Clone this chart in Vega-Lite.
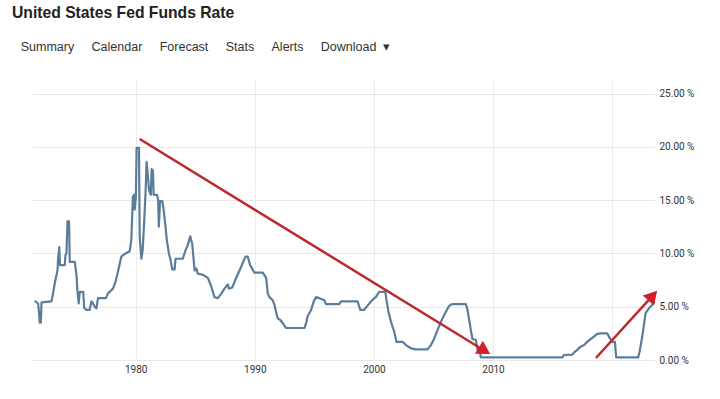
{
  "$schema": "https://vega.github.io/schema/vega-lite/v6.json",
  "width": 623,
  "height": 280,
  "autosize": {"type": "none"},
  "padding": {"left": 32, "top": 80, "right": 65, "bottom": 39},
  "background": "#ffffff",
  "title": {
    "text": "United States Fed Funds Rate",
    "subtitle": "\u200b\u2002\u2009Summary\u00a0\u00a0\u00a0\u00a0\u00a0Calendar\u00a0\u00a0\u00a0\u00a0\u00a0Forecast\u00a0\u00a0\u00a0\u00a0\u00a0Stats\u00a0\u00a0\u00a0\u00a0\u00a0Alerts\u00a0\u00a0\u00a0\u00a0\u00a0Download\u00a0\u00a0\u25be",
    "anchor": "start",
    "frame": "group",
    "dx": -20,
    "offset": 26,
    "font": "Liberation Sans",
    "fontSize": 15.7,
    "fontWeight": "bold",
    "color": "#222222",
    "subtitleFont": "Liberation Sans",
    "subtitleFontSize": 12.5,
    "subtitleColor": "#333333",
    "subtitlePadding": 19
  },
  "config": {
    "view": {"stroke": null},
    "axis": {
      "labelFont": "Roboto",
      "labelFontSize": 10,
      "labelColor": "#333333",
      "domain": false,
      "ticks": false,
      "title": null
    }
  },
  "datasets": {
    "rate": [
      {"year": 1971.53, "rate": 5.56}, {"year": 1971.81, "rate": 5.3}, {"year": 1971.87, "rate": 4.7},
      {"year": 1971.95, "rate": 3.5}, {"year": 1972.04, "rate": 3.5}, {"year": 1972.10, "rate": 5.4},
      {"year": 1972.93, "rate": 5.5}, {"year": 1973.07, "rate": 6.25}, {"year": 1973.21, "rate": 7.2},
      {"year": 1973.44, "rate": 8.4}, {"year": 1973.49, "rate": 9.5}, {"year": 1973.59, "rate": 10.6},
      {"year": 1973.65, "rate": 8.9}, {"year": 1974.05, "rate": 8.9}, {"year": 1974.11, "rate": 9.85},
      {"year": 1974.19, "rate": 10.0}, {"year": 1974.28, "rate": 13.0}, {"year": 1974.41, "rate": 13.0},
      {"year": 1974.47, "rate": 9.2}, {"year": 1974.89, "rate": 9.2}, {"year": 1975.03, "rate": 8.0},
      {"year": 1975.11, "rate": 6.6}, {"year": 1975.22, "rate": 5.3}, {"year": 1975.31, "rate": 6.4},
      {"year": 1975.60, "rate": 6.4}, {"year": 1975.68, "rate": 4.9}, {"year": 1975.87, "rate": 4.7},
      {"year": 1976.14, "rate": 4.7}, {"year": 1976.29, "rate": 5.5}, {"year": 1976.42, "rate": 5.3},
      {"year": 1976.56, "rate": 5.0}, {"year": 1976.71, "rate": 4.85}, {"year": 1976.84, "rate": 5.8},
      {"year": 1977.49, "rate": 5.8}, {"year": 1977.68, "rate": 6.25}, {"year": 1978.10, "rate": 6.7},
      {"year": 1978.30, "rate": 7.3}, {"year": 1978.52, "rate": 8.3}, {"year": 1978.80, "rate": 9.7},
      {"year": 1979.08, "rate": 9.95}, {"year": 1979.50, "rate": 10.2}, {"year": 1979.64, "rate": 11.3},
      {"year": 1979.77, "rate": 15.3}, {"year": 1979.86, "rate": 15.5}, {"year": 1979.92, "rate": 14.1},
      {"year": 1980.02, "rate": 15.3}, {"year": 1980.08, "rate": 19.9}, {"year": 1980.28, "rate": 19.9},
      {"year": 1980.34, "rate": 11.6}, {"year": 1980.48, "rate": 9.5}, {"year": 1980.59, "rate": 10.3},
      {"year": 1980.71, "rate": 12.8}, {"year": 1980.84, "rate": 15.9}, {"year": 1980.92, "rate": 18.6},
      {"year": 1981.01, "rate": 17.5}, {"year": 1981.13, "rate": 15.9}, {"year": 1981.28, "rate": 15.5},
      {"year": 1981.34, "rate": 17.9}, {"year": 1981.45, "rate": 17.8}, {"year": 1981.51, "rate": 15.5},
      {"year": 1981.80, "rate": 15.5}, {"year": 1981.89, "rate": 15.0}, {"year": 1981.95, "rate": 12.5},
      {"year": 1982.05, "rate": 14.9}, {"year": 1982.24, "rate": 14.9}, {"year": 1982.35, "rate": 14.1},
      {"year": 1982.51, "rate": 12.5}, {"year": 1982.62, "rate": 11.25}, {"year": 1982.79, "rate": 10.0},
      {"year": 1982.91, "rate": 9.5}, {"year": 1983.08, "rate": 8.5}, {"year": 1983.27, "rate": 8.5},
      {"year": 1983.35, "rate": 9.5}, {"year": 1983.96, "rate": 9.5}, {"year": 1984.19, "rate": 10.3},
      {"year": 1984.38, "rate": 10.8}, {"year": 1984.58, "rate": 11.6}, {"year": 1984.75, "rate": 10.9},
      {"year": 1984.95, "rate": 8.4}, {"year": 1985.09, "rate": 8.6}, {"year": 1985.22, "rate": 8.1},
      {"year": 1985.64, "rate": 8.0}, {"year": 1986.06, "rate": 7.7}, {"year": 1986.35, "rate": 6.9},
      {"year": 1986.62, "rate": 5.9}, {"year": 1986.90, "rate": 5.8}, {"year": 1987.18, "rate": 6.2},
      {"year": 1987.46, "rate": 6.7}, {"year": 1987.74, "rate": 7.1}, {"year": 1987.82, "rate": 6.7},
      {"year": 1988.11, "rate": 6.8}, {"year": 1988.44, "rate": 7.7}, {"year": 1988.72, "rate": 8.4},
      {"year": 1988.99, "rate": 9.1}, {"year": 1989.22, "rate": 9.7}, {"year": 1989.41, "rate": 9.7},
      {"year": 1989.61, "rate": 8.9}, {"year": 1989.97, "rate": 8.2}, {"year": 1990.67, "rate": 8.2},
      {"year": 1990.96, "rate": 7.7}, {"year": 1991.09, "rate": 6.25}, {"year": 1991.23, "rate": 5.9},
      {"year": 1991.51, "rate": 5.6}, {"year": 1991.65, "rate": 5.2}, {"year": 1991.79, "rate": 4.5},
      {"year": 1991.93, "rate": 3.9}, {"year": 1992.15, "rate": 3.75}, {"year": 1992.35, "rate": 3.45},
      {"year": 1992.63, "rate": 3.0}, {"year": 1994.17, "rate": 3.0}, {"year": 1994.31, "rate": 3.45},
      {"year": 1994.44, "rate": 4.1}, {"year": 1994.73, "rate": 4.7}, {"year": 1994.95, "rate": 5.5},
      {"year": 1995.15, "rate": 5.9}, {"year": 1995.42, "rate": 5.8}, {"year": 1995.84, "rate": 5.6},
      {"year": 1995.98, "rate": 5.25}, {"year": 1997.10, "rate": 5.25}, {"year": 1997.24, "rate": 5.5},
      {"year": 1998.63, "rate": 5.5}, {"year": 1998.86, "rate": 4.7}, {"year": 1999.19, "rate": 4.7},
      {"year": 1999.47, "rate": 5.1}, {"year": 1999.76, "rate": 5.5}, {"year": 2000.03, "rate": 5.8},
      {"year": 2000.17, "rate": 5.9}, {"year": 2000.45, "rate": 6.4}, {"year": 2000.96, "rate": 6.4},
      {"year": 2001.06, "rate": 5.6}, {"year": 2001.23, "rate": 4.5}, {"year": 2001.43, "rate": 3.6},
      {"year": 2001.71, "rate": 2.65}, {"year": 2001.90, "rate": 1.7}, {"year": 2002.41, "rate": 1.7},
      {"year": 2002.69, "rate": 1.4}, {"year": 2003.11, "rate": 1.1}, {"year": 2003.50, "rate": 1.0},
      {"year": 2004.50, "rate": 1.0}, {"year": 2004.79, "rate": 1.4}, {"year": 2005.06, "rate": 2.0},
      {"year": 2005.34, "rate": 2.8}, {"year": 2005.63, "rate": 3.6}, {"year": 2005.99, "rate": 4.4},
      {"year": 2006.32, "rate": 5.1}, {"year": 2006.60, "rate": 5.25}, {"year": 2007.72, "rate": 5.25},
      {"year": 2007.86, "rate": 4.7}, {"year": 2008.00, "rate": 3.75}, {"year": 2008.14, "rate": 2.8},
      {"year": 2008.28, "rate": 1.95}, {"year": 2008.56, "rate": 1.9}, {"year": 2008.70, "rate": 0.94},
      {"year": 2008.90, "rate": 0.8}, {"year": 2008.98, "rate": 0.25}, {"year": 2015.82, "rate": 0.25},
      {"year": 2015.96, "rate": 0.47}, {"year": 2016.66, "rate": 0.5}, {"year": 2016.80, "rate": 0.7},
      {"year": 2017.07, "rate": 0.95}, {"year": 2017.36, "rate": 1.25}, {"year": 2017.64, "rate": 1.4},
      {"year": 2017.91, "rate": 1.7}, {"year": 2018.20, "rate": 1.95}, {"year": 2018.47, "rate": 2.2},
      {"year": 2018.75, "rate": 2.45}, {"year": 2019.03, "rate": 2.5}, {"year": 2019.59, "rate": 2.5},
      {"year": 2019.73, "rate": 2.2}, {"year": 2020.01, "rate": 1.7}, {"year": 2020.23, "rate": 1.7},
      {"year": 2020.34, "rate": 0.25}, {"year": 2022.19, "rate": 0.25}, {"year": 2022.31, "rate": 0.8},
      {"year": 2022.53, "rate": 2.2}, {"year": 2022.67, "rate": 3.3}, {"year": 2022.81, "rate": 4.4},
      {"year": 2023.09, "rate": 4.85}, {"year": 2023.36, "rate": 5.16}, {"year": 2023.59, "rate": 5.5}
    ],
    "arrows": [
      {"name": "down", "x1": 1980.34, "y1": 20.73, "x2": 2008.92, "y2": 1.13, "tipYear": 2009.29, "tipRate": 0.88},
      {"name": "up", "x1": 2018.64, "y1": 0.19, "x2": 2023.10, "y2": 5.67, "tipYear": 2023.41, "tipRate": 6.04}
    ]
  },
  "layer": [
    {
      "data": {"name": "rate"},
      "mark": {"type": "line", "color": "#5b7d9a", "strokeWidth": 2.2, "strokeJoin": "round"},
      "encoding": {
        "x": {
          "field": "year", "type": "quantitative",
          "scale": {"domain": [1971.3, 2023.6], "nice": false, "zero": false},
          "axis": {
            "values": [1980, 1990, 2000, 2010, 2020],
            "labelExpr": "datum.value == 2020 ? '' : format(datum.value, 'd')",
            "grid": true, "gridColor": "#ececec", "gridWidth": 1,
            "labelPadding": 4
          }
        },
        "y": {
          "field": "rate", "type": "quantitative",
          "scale": {"domain": [0, 26.27], "nice": false},
          "axis": {
            "orient": "right",
            "values": [0, 5, 10, 15, 20, 25],
            "labelExpr": "format(datum.value, '.2f') + ' %'",
            "grid": true, "gridColor": "#e8e8e8", "gridWidth": 1,
            "labelPadding": 4
          }
        }
      }
    },
    {
      "data": {"name": "arrows"},
      "mark": {"type": "rule", "color": "#c0282d", "strokeWidth": 2.5},
      "encoding": {
        "x": {"field": "x1", "type": "quantitative"},
        "y": {"field": "y1", "type": "quantitative"},
        "x2": {"field": "x2"},
        "y2": {"field": "y2"}
      }
    },
    {
      "data": {"name": "arrows"},
      "transform": [{"filter": "datum.name == 'down'"}],
      "mark": {"type": "point", "shape": "triangle-up", "filled": true, "color": "#d0202a", "size": 230, "angle": 121.4, "opacity": 1},
      "encoding": {
        "x": {"field": "tipYear", "type": "quantitative"},
        "y": {"field": "tipRate", "type": "quantitative"}
      }
    },
    {
      "data": {"name": "arrows"},
      "transform": [{"filter": "datum.name == 'up'"}],
      "mark": {"type": "point", "shape": "triangle-up", "filled": true, "color": "#d0202a", "size": 230, "angle": 42.3, "opacity": 1},
      "encoding": {
        "x": {"field": "tipYear", "type": "quantitative"},
        "y": {"field": "tipRate", "type": "quantitative"}
      }
    }
  ]
}
